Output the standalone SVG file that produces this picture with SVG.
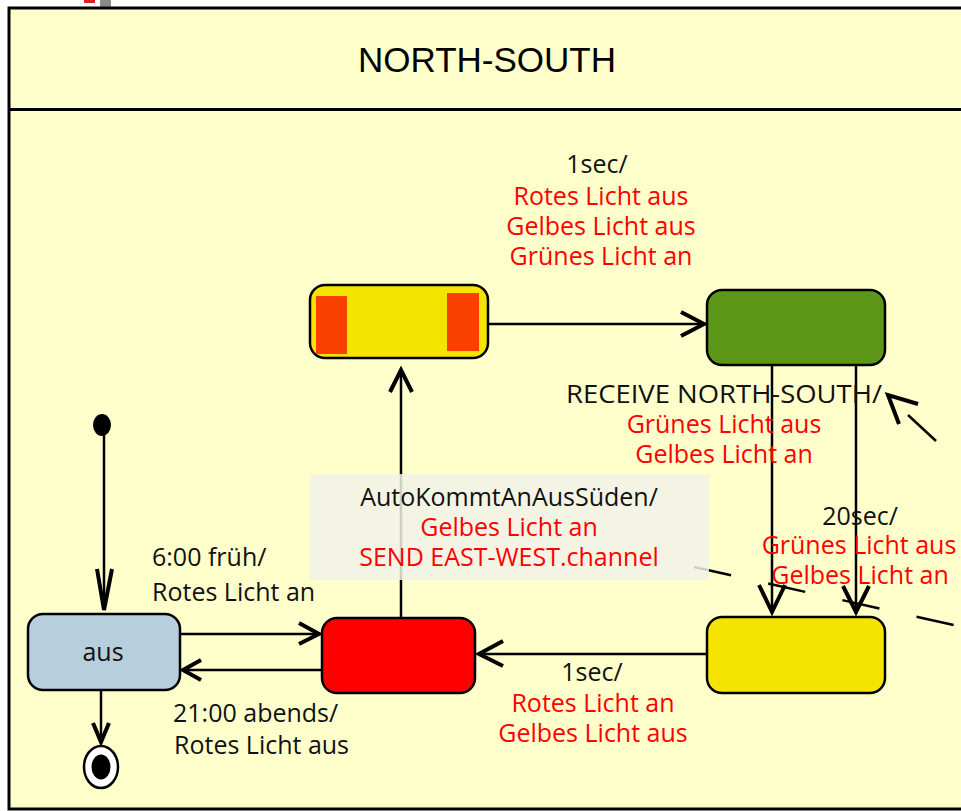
<svg xmlns="http://www.w3.org/2000/svg" width="961" height="811" viewBox="0 0 961 811">
  <style>
    .frame { fill: #ffffcc; stroke: #000; stroke-width: 3; }
    .state { stroke: #000; stroke-width: 2.5; }
    .edge { fill: none; stroke: #000; stroke-width: 2.5; }
    .head { fill: none; stroke: #000; stroke-width: 4; stroke-linejoin: miter; }
    .lbl { font-family: "Open Sans", Lato, sans-serif; font-size: 25px; text-anchor: middle; }
    .lft { text-anchor: start; }
    .ev { fill: #111; }
    .act { fill: #ff0000; }
  </style>

  <rect x="0" y="0" width="961" height="811" fill="#ffffff"/>
  <rect x="84" y="0" width="11" height="3" fill="#dd2222"/>
  <rect x="100" y="0" width="11" height="7" fill="#8a8a8a"/>

  <!-- composite state frame -->
  <g id="frame">
    <rect class="frame" x="9" y="8" width="970" height="801"/>
    <line x1="9" y1="109.5" x2="961" y2="109.5" stroke="#000" stroke-width="3"/>
    <text x="487" y="72" font-family="Liberation Sans, Arial, sans-serif" font-size="35" text-anchor="middle" fill="#000">NORTH-SOUTH</text>
  </g>

  <!-- connectors -->
  <g id="connectors">
    <!-- initial -> aus -->
    <line class="edge" x1="104" y1="432" x2="104" y2="610"/>
    <polyline class="head" points="97,569 104,610 112,569"/>
    <!-- aus -> red -->
    <line class="edge" x1="180" y1="634" x2="319" y2="634"/>
    <polyline class="head" points="299,623 319,634 299,644"/>
    <!-- red -> aus -->
    <line class="edge" x1="322" y1="670" x2="183" y2="670"/>
    <polyline class="head" points="201,660 183,670 201,680"/>
    <!-- aus -> final -->
    <line class="edge" x1="101" y1="690" x2="101" y2="743"/>
    <polyline class="head" points="93,723 101,742 109,723"/>
    <!-- red -> yellow/orange -->
    <line class="edge" x1="401" y1="618" x2="401" y2="370"/>
    <polyline class="head" points="390,392 401,370 412,392"/>
    <!-- yellow/orange -> green -->
    <line class="edge" x1="488" y1="324" x2="704" y2="324"/>
    <polyline class="head" points="681,312 704,324 681,336"/>
    <!-- green -> yellow (two transitions) -->
    <line class="edge" x1="772" y1="365" x2="772" y2="612"/>
    <polyline class="head" points="759,585 772,612 785,585"/>
    <line class="edge" x1="856" y1="365" x2="856" y2="612"/>
    <polyline class="head" points="843,586 856,612 869,586"/>
    <!-- yellow -> red -->
    <line class="edge" x1="707" y1="654" x2="479" y2="654"/>
    <polyline class="head" points="503,641 479,654 503,666"/>
    <!-- dashed guide crossing the right side -->
    <line x1="694" y1="567" x2="958" y2="626" stroke="#000" stroke-width="2.5" stroke-dasharray="38,38"/>
    <!-- incoming from the right -->
    <line x1="908" y1="415" x2="936" y2="441" stroke="#000" stroke-width="2.5"/>
    <polyline class="head" points="918,404 888,395 899,424" stroke-width="5"/>
  </g>

  <!-- states -->
  <g id="initial">
    <ellipse cx="102" cy="425" rx="9" ry="11" fill="#000"/>
  </g>
  <g id="final">
    <ellipse cx="101" cy="767" rx="17" ry="21" fill="#fff" stroke="#000" stroke-width="2.5"/>
    <ellipse cx="101" cy="767" rx="9.5" ry="12.5" fill="#000"/>
  </g>
  <g id="aus">
    <rect class="state" x="28" y="614" width="152" height="76" rx="15" fill="#b7cedd"/>
    <text class="lbl ev" x="103" y="661">aus</text>
  </g>
  <g id="red">
    <rect class="state" x="322" y="618" width="153" height="75" rx="15" fill="#ff0000"/>
  </g>
  <g id="yellowOrange">
    <rect class="state" x="310" y="285" width="178" height="73" rx="15" fill="#f5e400"/>
    <rect x="316" y="296" width="31" height="58" fill="#fa4000"/>
    <rect x="447" y="293" width="32" height="58" fill="#fa4000"/>
  </g>
  <g id="green">
    <rect class="state" x="707" y="290" width="178" height="75" rx="15" fill="#5e9618"/>
  </g>
  <g id="yellow">
    <rect class="state" x="707" y="617" width="178" height="76" rx="15" fill="#f5e400"/>
  </g>

  <!-- labels -->
  <g id="labels">
    <text class="lbl ev" x="597" y="173">1sec/</text>
    <text class="lbl act" x="601" y="205">Rotes Licht aus</text>
    <text class="lbl act" x="601" y="235">Gelbes Licht aus</text>
    <text class="lbl act" x="601" y="265">Grünes Licht an</text>

    <text class="lbl ev" x="724" y="403" textLength="316" lengthAdjust="spacingAndGlyphs">RECEIVE NORTH-SOUTH/</text>
    <text class="lbl act" x="724" y="433">Grünes Licht aus</text>
    <text class="lbl act" x="724" y="463">Gelbes Licht an</text>

    <rect x="310" y="474" width="399" height="106" fill="#f2f2e8" fill-opacity="0.85"/>
    <text class="lbl ev" x="509" y="506">AutoKommtAnAusSüden/</text>
    <text class="lbl act" x="509" y="536">Gelbes Licht an</text>
    <text class="lbl act" x="509" y="566">SEND EAST-WEST.channel</text>

    <text class="lbl ev" x="860" y="525">20sec/</text>
    <text class="lbl act" x="859" y="554">Grünes Licht aus</text>
    <text class="lbl act" x="860" y="584">Gelbes Licht an</text>

    <text class="lbl lft ev" x="152" y="566">6:00 früh/</text>
    <text class="lbl lft ev" x="152" y="601">Rotes Licht an</text>

    <text class="lbl lft ev" x="173" y="722">21:00 abends/</text>
    <text class="lbl lft ev" x="174" y="754">Rotes Licht aus</text>

    <text class="lbl ev" x="592" y="681">1sec/</text>
    <text class="lbl act" x="593" y="712">Rotes Licht an</text>
    <text class="lbl act" x="593" y="742">Gelbes Licht aus</text>
  </g>
</svg>
